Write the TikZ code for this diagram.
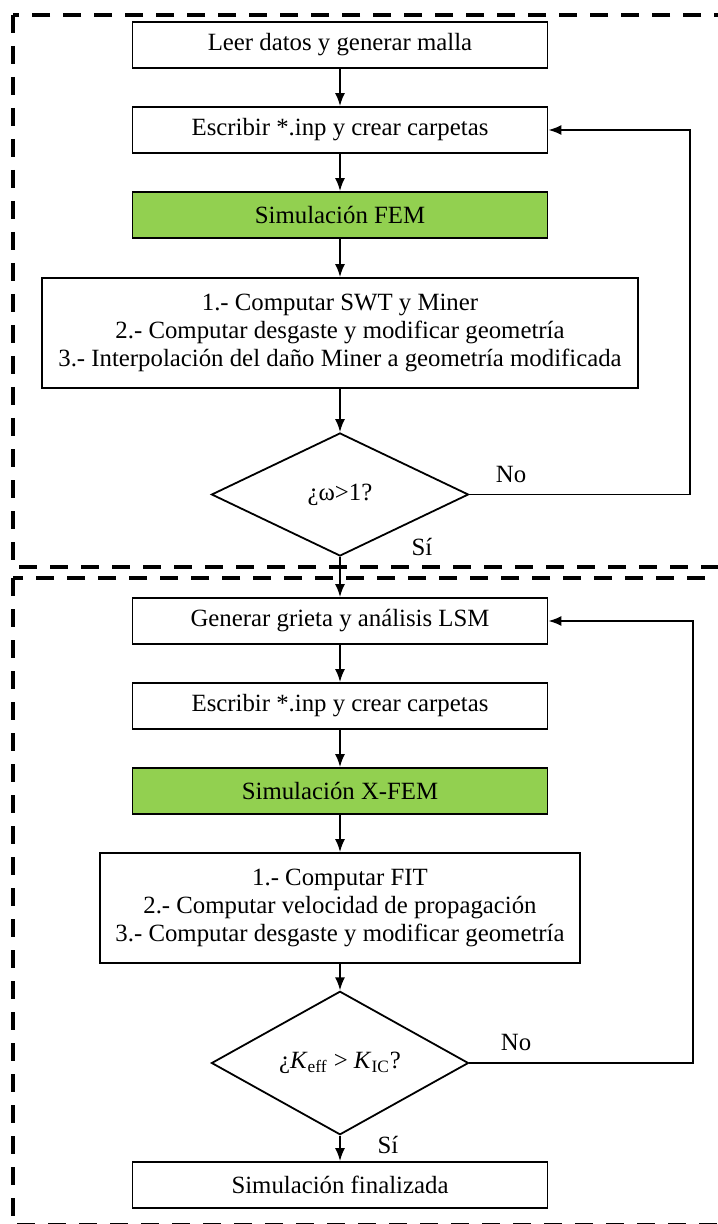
\documentclass[tikz,border=0pt]{standalone}
\usepackage{fontspec}
\setmainfont{Liberation Serif}
\usetikzlibrary{shapes.geometric, arrows.meta}
\definecolor{simgreen}{HTML}{92D050}

\begin{document}
\begin{tikzpicture}[x=0.5pt, y=-0.5pt, font=\fontsize{12.4}{14.2}\selectfont,
  Process/.style={draw, line width=0.9pt, fill=white, align=center, minimum width=207.5pt, minimum height=23pt, inner sep=0pt},
  Simulation/.style={Process, fill=simgreen},
  Decision/.style={draw, line width=0.9pt, diamond, minimum width=128.5pt, minimum height=61.5pt, inner sep=0pt},
  Frame/.style={line width=2pt, dash pattern=on 9pt off 6.5pt},
  Connection/.style={->, >={Latex[length=6.5pt, width=5pt]}, line width=0.9pt}]

\useasboundingbox (0,0) rectangle (717,1224);

\draw [Frame] (13,15) rectangle (735,567);
\draw [Frame] (13,578) rectangle (735,1225);

\node [Process] (read) at (340,45) {Leer datos y generar malla};
\node [Process] (write1) at (340,130) {Escribir *.inp y crear carpetas};
\node [Simulation] (fem) at (340,215) {Simulación FEM};
\node [Process, minimum width=298pt, minimum height=55pt] (post1) at (340,333)
  {1.- Computar SWT y Miner\\2.- Computar desgaste y modificar geometría\\3.- Interpolación del daño Miner a geometría modificada};
\node [Decision] (check1) at (340,494.5) {¿ω>1?};

\node [Process] (crack) at (340,621) {Generar grieta y análisis LSM};
\node [Process] (write2) at (340,706) {Escribir *.inp y crear carpetas};
\node [Simulation] (xfem) at (340,791) {Simulación X-FEM};
\node [Process, minimum width=240pt, minimum height=55pt] (post2) at (340,908)
  {1.- Computar FIT\\2.- Computar velocidad de propagación\\3.- Computar desgaste y modificar geometría};
\node [Decision] (check2) at (340,1063) {¿\textit{K}\textsubscript{eff} > \textit{K}\textsubscript{IC}?};
\node [Process] (done) at (340,1185) {Simulación finalizada};

\node (no1) at (511,475) {No};
\node (si1) at (422,547) {Sí};
\node (no2) at (516,1042) {No};
\node (si2) at (388,1145) {Sí};

\coordinate (loop1) at (690,0);
\coordinate (loop2) at (693,0);

\foreach \a/\b in {read/write1, write1/fem, fem/post1, post1/check1, check1/crack,
  crack/write2, write2/xfem, xfem/post2, post2/check2, check2/done} {
  \draw [Connection] (\a) -- (\b);
}

\draw [Connection] (check1.east) -- (check1.east -| loop1) |- (write1.east);
\draw [Connection] (check2.east) -- (check2.east -| loop2) |- (crack.east);
\end{tikzpicture}
\end{document}
